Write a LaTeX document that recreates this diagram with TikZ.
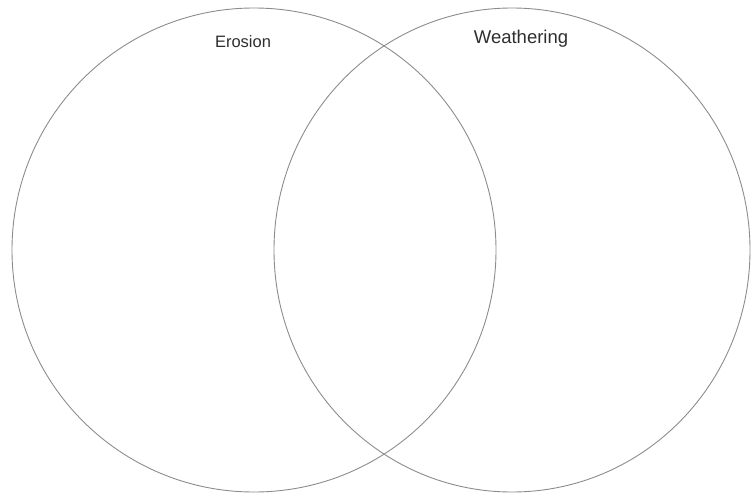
\documentclass[tikz,border=0pt]{standalone}
\usepackage{fontspec}
\setmainfont{Liberation Sans}
\usetikzlibrary{positioning, shapes.geometric}
\definecolor{ringgray}{HTML}{8C8C8C}
\definecolor{textgray}{HTML}{2E2E2E}

\begin{document}
\begin{tikzpicture}[
  x=1pt, y=-1pt,
  ring/.style={draw=ringgray, line width=0.9pt, ellipse, inner sep=0pt,
               outer sep=0pt},
  lbl/.style={text=textgray, inner sep=0pt, anchor=base},
]
\useasboundingbox (0,0) rectangle (752,493);

% ---- Two overlapping sets ----
\node[ring, minimum width=484pt, minimum height=484pt] (erosion)
  at (254, 250) {};
\node[ring, minimum width=476pt, minimum height=484pt] (weathering)
  at (512, 250) {};

% ---- Set titles ----
\node[lbl, font=\fontsize{16.5}{18}\selectfont] (erosionlbl) at (243, 47)
  {Erosion};
\node[lbl, font=\fontsize{18.5}{20}\selectfont] (weatherlbl) at (521, 43)
  {Weathering};

\end{tikzpicture}
\end{document}
